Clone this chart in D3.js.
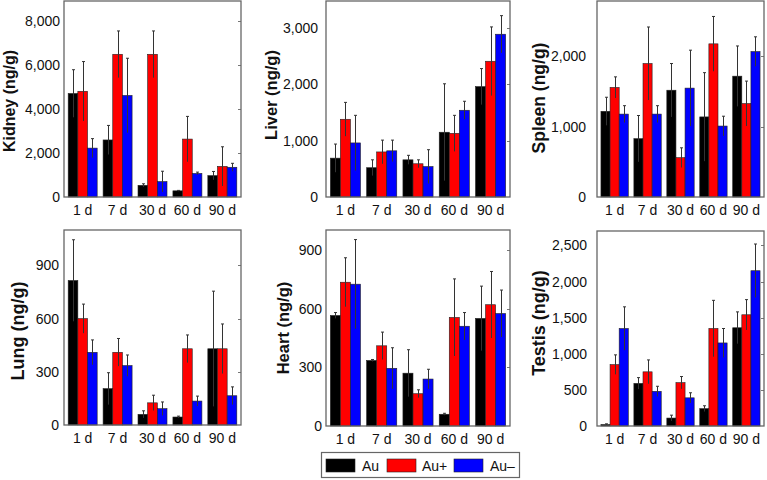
<!DOCTYPE html>
<html><head><meta charset="utf-8">
<script src="https://cdn.jsdelivr.net/npm/d3@7"></script>
<style>body{margin:0;background:#fff}svg{display:block;font-family:"Liberation Sans",Arial,sans-serif}</style>
</head><body><svg id="c" width="767" height="480"></svg>
<script>
const categories = ["1 d","7 d","30 d","60 d","90 d"];
const series = ["Au","Au+","Au–"];
const colors = ["#000000","#ff0000","#0000ff"];

// means [Au, Au+, Au-] and symmetric error (sd)
const kidneyMean = [[4700,2590,530,280,970],[4800,6480,6480,2630,1390],[2220,4610,700,1070,1350]];
const kidneyErr  = [[1080,660,70,20,190],[1350,1060,1060,1030,890],[430,1690,470,60,180]];
const liverMean  = [[690,520,660,1150,1960],[1380,800,590,1130,2410],[960,820,540,1540,2890]];
const liverErr   = [[250,140,80,860,320],[300,210,70,320,610],[490,190,300,160,330]];
const spleenMean = [[1220,830,1520,1140,1720],[1560,1900,560,2180,1330],[1180,1180,1550,1010,2070]];
const spleenErr  = [[200,330,380,630,430],[150,520,140,390,320],[120,120,540,140,210]];
const lungMean   = [[815,205,60,45,430],[600,410,125,430,430],[410,335,92,135,165]];
const lungErr    = [[230,90,20,5,325],[82,78,43,78,140],[70,60,38,28,50]];
const heartMean  = [[565,335,270,60,550],[735,410,165,555,620],[725,295,240,510,575]];
const heartErr   = [[15,5,120,5,165],[125,70,20,197,170],[228,105,50,70,120]];
const testisMean = [[20,590,110,240,1360],[850,750,600,1350,1540],[1350,480,390,1150,2150]];
const testisErr  = [[10,80,40,40,220],[135,165,85,390,210],[300,70,70,200,370]];

const kidneyTicks = [0,2000,4000,6000,8000];
const liverTicks  = [0,1000,2000,3000];
const spleenTicks = [0,1000,2000];
const lungTicks   = [0,300,600,900];
const heartTicks  = [0,300,600,900];
const testisTicks = [0,500,1000,1500,2000,2500];

const panels = [
  {label:"Kidney (ng/g)", mean:kidneyMean, err:kidneyErr, ticks:kidneyTicks, max:8900, x0:64, x1:241, y0:1, y1:197, lx:9, ly:101, fs:16, tgap:4},
  {label:"Liver (ng/g)", mean:liverMean, err:liverErr, ticks:liverTicks, max:3480, x0:326, x1:510, y0:1, y1:197, lx:271, ly:95, fs:16.5, tgap:8},
  {label:"Spleen (ng/g)", mean:spleenMean, err:spleenErr, ticks:spleenTicks, max:2790, x0:597, x1:764, y0:1, y1:197, lx:539, ly:98, fs:17.5, tgap:11},
  {label:"Lung (ng/g)", mean:lungMean, err:lungErr, ticks:lungTicks, max:1100, x0:64, x1:241, y0:230, y1:425, lx:18, ly:331, fs:18, tgap:5},
  {label:"Heart (ng/g)", mean:heartMean, err:heartErr, ticks:heartTicks, max:1002, x0:326, x1:510, y0:230, y1:426, lx:283, ly:328, fs:16.5, tgap:4},
  {label:"Testis (ng/g)", mean:testisMean, err:testisErr, ticks:testisTicks, max:2700, x0:597, x1:764, y0:231, y1:426, lx:539, ly:323, fs:18, tgap:10}
];

const svg = d3.select("#c");
const fmt = d3.format(",");

panels.forEach(p => {
  const g = svg.append("g");
  const x = d3.scaleBand().domain(categories).range([p.x0, p.x1]).paddingInner(0.17).paddingOuter(0.12);
  const xs = d3.scaleBand().domain(series).range([0, x.bandwidth()]);
  const y = d3.scaleLinear().domain([0, p.max]).range([p.y1, p.y0]);

  // bars
  series.forEach((s, si) => {
    g.append("g").selectAll("rect").data(categories).join("rect")
      .attr("x", c => x(c) + xs(s))
      .attr("y", (c, i) => y(p.mean[si][i]))
      .attr("width", xs.bandwidth())
      .attr("height", (c, i) => y(0) - y(p.mean[si][i]))
      .attr("fill", colors[si])
      .attr("stroke", "#222").attr("stroke-width", 0.6);
  });
  // error bars
  series.forEach((s, si) => {
    const eg = g.append("g").attr("stroke", "#333").attr("stroke-width", 1);
    categories.forEach((c, i) => {
      const cx = Math.round(x(c) + xs(s) + xs.bandwidth() / 2) + 0.5;
      const m = p.mean[si][i], e = p.err[si][i];
      eg.append("line").attr("x1", cx).attr("x2", cx).attr("y1", y(m + e)).attr("y2", y(Math.max(0, m - e)));
      eg.append("line").attr("x1", cx - 1.5).attr("x2", cx + 1.5).attr("y1", y(m + e)).attr("y2", y(m + e));
    });
  });

  // y axis
  const ya = d3.axisLeft(y).tickValues(p.ticks).tickFormat(fmt).tickSize(0).tickPadding(p.tgap);
  const yg = g.append("g").attr("transform", `translate(${p.x0},0)`).call(ya);
  yg.select(".domain").remove();
  yg.selectAll("text").attr("font-size", 14).attr("fill", "#111").attr("font-family", '"Liberation Sans",Arial,sans-serif');
  // small inward ticks on right side
  g.append("g").selectAll("line").data(p.ticks.slice(1)).join("line")
    .attr("x1", p.x1 - 3).attr("x2", p.x1).attr("y1", d => Math.round(y(d)) + 0.5).attr("y2", d => Math.round(y(d)) + 0.5)
    .attr("stroke", "#777");

  // x axis
  const xa = d3.axisBottom(x).tickSize(0).tickPadding(8);
  const xg = g.append("g").attr("transform", `translate(0,${p.y1})`).call(xa);
  xg.select(".domain").remove();
  xg.selectAll("text").attr("font-size", 14).attr("fill", "#111").attr("font-family", '"Liberation Sans",Arial,sans-serif');

  // frame
  g.append("rect").attr("x", p.x0).attr("y", p.y0).attr("width", p.x1 - p.x0).attr("height", p.y1 - p.y0)
    .attr("fill", "none").attr("stroke", "#666").attr("stroke-width", 1.3);

  // y label
  g.append("text").attr("transform", `translate(${p.lx},${p.ly}) rotate(-90)`)
    .attr("text-anchor", "middle").attr("dy", "0.35em")
    .attr("font-size", p.fs).attr("font-weight", "bold").attr("fill", "#111").text(p.label);
});

// legend
const lg = svg.append("g");
lg.append("rect").attr("x", 321.5).attr("y", 452.5).attr("width", 198).attr("height", 25)
  .attr("fill", "#fff").attr("stroke", "#666").attr("stroke-width", 1.2);
const legendX = [326, 387, 454];
const legendTextX = [362, 422, 490];
series.forEach((s, i) => {
  lg.append("rect").attr("x", legendX[i]).attr("y", 459).attr("width", 29).attr("height", 13)
    .attr("fill", colors[i]).attr("stroke", "#222").attr("stroke-width", 0.6);
  lg.append("text").attr("x", legendTextX[i]).attr("y", 471).attr("font-size", 14).attr("fill", "#111").text(s);
});
</script></body></html>
